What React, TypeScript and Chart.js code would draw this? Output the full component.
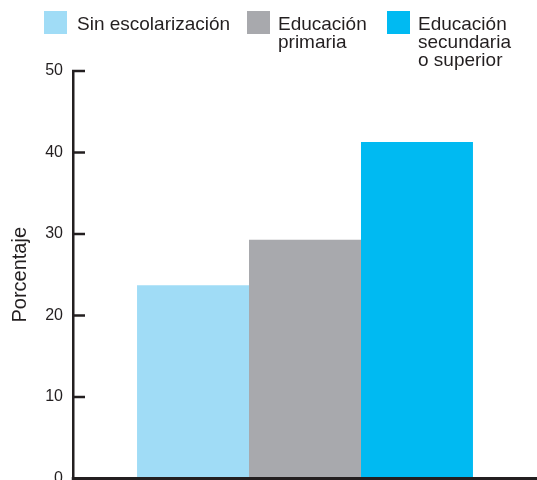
import React, { useEffect, useRef } from "react";
import { Chart, registerables } from "chart.js";

Chart.register(...registerables);

// ---- data ----
const categories = [""];
const seriesLines = [
  ["Sin escolarización"],
  ["Educación", "primaria"],
  ["Educación", "secundaria", "o superior"],
];
const seriesValues = [23.7, 29.3, 41.3];
const yTicks = [0, 10, 20, 30, 40, 50];
const yTitle = "Porcentaje";

// ---- styles ----
const colors = ["#A0DCF6", "#A8A9AD", "#00BAF2"];
const INK = "#231F20";
const FONT = "'Liberation Sans', Arial, Helvetica, sans-serif";
const legendLayout = [
  { box: 44, text: 77 },
  { box: 247, text: 278 },
  { box: 387, text: 418 },
];

const customPlugin = {
  id: "customDecor",
  afterDraw(chart: any) {
    const { ctx, chartArea } = chart;
    const y = chart.scales.y;
    ctx.save();
    // inward ticks
    ctx.strokeStyle = INK;
    ctx.lineWidth = 2.5;
    for (const v of yTicks) {
      const py = y.getPixelForValue(v);
      ctx.beginPath();
      ctx.moveTo(chartArea.left - 1, py);
      ctx.lineTo(chartArea.left + 12, py);
      ctx.stroke();
    }
    // x axis line
    const y0 = y.getPixelForValue(0);
    ctx.lineWidth = 3;
    ctx.beginPath();
    ctx.moveTo(chartArea.left - 1.25, y0);
    ctx.lineTo(chart.width, y0);
    ctx.stroke();

    // legend
    ctx.font = `19px ${FONT}`;
    ctx.textBaseline = "alphabetic";
    ctx.textAlign = "left";
    chart.data.datasets.forEach((ds: any, i: number) => {
      const pos = legendLayout[i];
      ctx.fillStyle = ds.backgroundColor;
      ctx.fillRect(pos.box, 11, 23, 23);
      ctx.fillStyle = INK;
      seriesLines[i].forEach((line, j) => {
        ctx.fillText(line, pos.text, 29.5 + j * 18);
      });
    });
    ctx.restore();
  },
};

export default function App() {
  const ref = useRef<HTMLCanvasElement | null>(null);

  useEffect(() => {
    document.body.style.margin = "0";
    if (!ref.current) return;
    const chart = new Chart(ref.current, {
      type: "bar",
      data: {
        labels: categories,
        datasets: seriesValues.map((v, i) => ({
          label: seriesLines[i].join(" "),
          data: [v],
          backgroundColor: colors[i],
          borderWidth: 0,
          barPercentage: 1,
          categoryPercentage: 0.724,
        })),
      },
      options: {
        animation: false,
        responsive: true,
        maintainAspectRatio: false,
        layout: { padding: { top: 71, bottom: 1.5, left: 0, right: -2 } },
        plugins: {
          legend: { display: false },
          tooltip: { enabled: false },
        },
        scales: {
          x: { display: false },
          y: {
            min: 0,
            max: 50,
            afterBuildTicks(scale: any) {
              scale.ticks = yTicks.map((v) => ({ value: v }));
            },
            afterFit(scale: any) {
              scale.width = 73;
              scale.paddingTop = 0;
              scale.paddingBottom = 0;
            },
            grid: { display: false, drawTicks: false },
            border: { display: true, color: INK, width: 2.5 },
            ticks: {
              color: INK,
              font: { family: FONT, size: 16 },
              padding: 10,
            },
            title: {
              display: true,
              text: yTitle,
              color: INK,
              font: { family: FONT, size: 20 },
              padding: { top: 8, bottom: 0 },
            },
          },
        },
      },
      plugins: [customPlugin],
    });
    return () => chart.destroy();
  }, []);

  return (
    <div style={{ width: 537, height: 480, position: "relative" }}>
      <canvas ref={ref} />
    </div>
  );
}
